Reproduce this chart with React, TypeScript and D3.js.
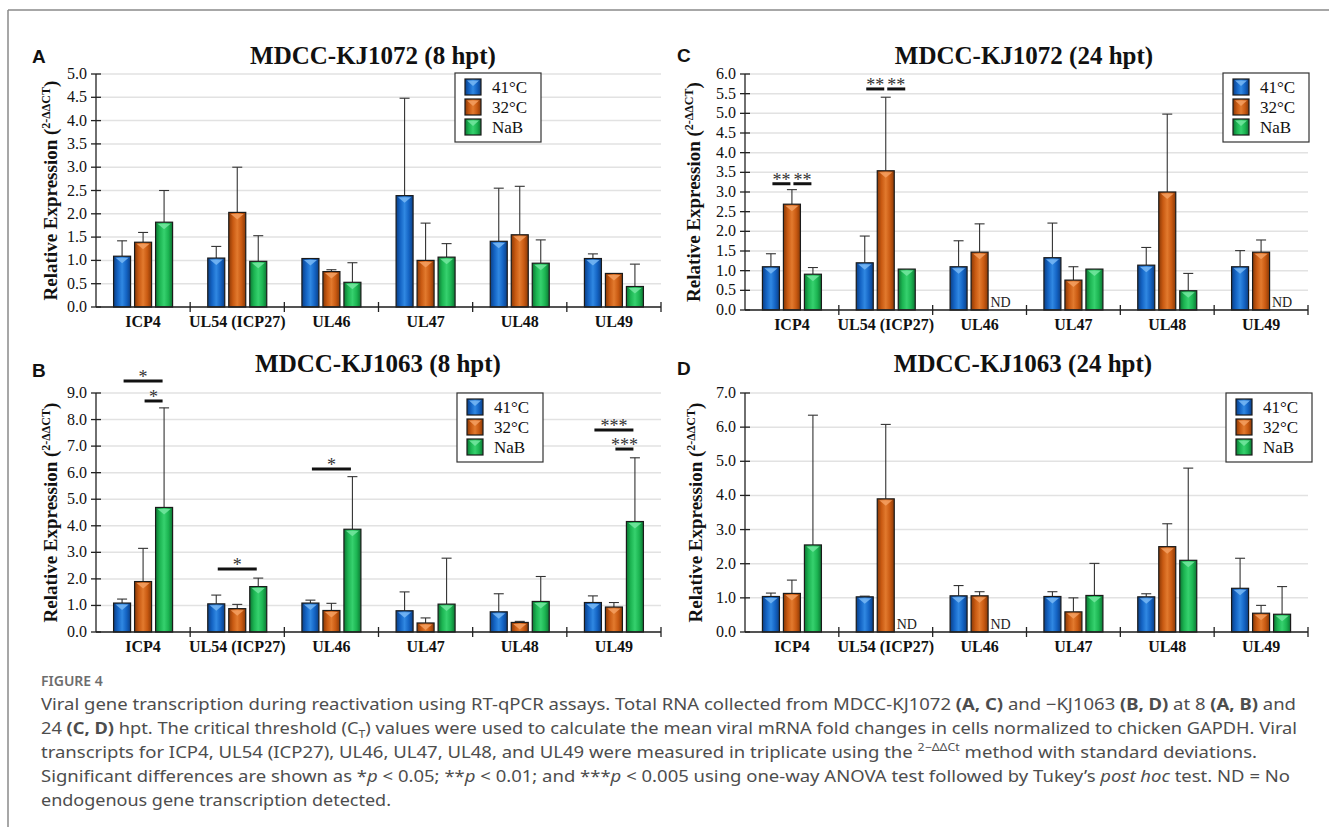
import React from 'react';
import * as d3 from 'd3';

const genes = ['ICP4', 'UL54 (ICP27)', 'UL46', 'UL47', 'UL48', 'UL49'];
const conditions = ['41°C', '32°C', 'NaB'];

// A: MDCC-KJ1072 (8 hpt) - mean and top of the SD whisker
const a41 = [1.09, 1.05, 1.04, 2.39, 1.41, 1.04];
const a41Hi = [1.42, 1.3, 1.04, 4.48, 2.55, 1.14];
const a32 = [1.39, 2.03, 0.76, 1.0, 1.55, 0.72];
const a32Hi = [1.6, 3.0, 0.8, 1.8, 2.59, 0.72];
const aNaB = [1.82, 0.98, 0.53, 1.07, 0.94, 0.44];
const aNaBHi = [2.5, 1.53, 0.95, 1.36, 1.44, 0.92];

// B: MDCC-KJ1063 (8 hpt)
const b41 = [1.09, 1.06, 1.09, 0.8, 0.76, 1.11];
const b41Hi = [1.24, 1.39, 1.2, 1.51, 1.44, 1.36];
const b32 = [1.9, 0.88, 0.81, 0.34, 0.36, 0.94];
const b32Hi = [3.15, 1.04, 1.08, 0.53, 0.4, 1.11];
const bNaB = [4.69, 1.71, 3.87, 1.05, 1.15, 4.16];
const bNaBHi = [8.44, 2.03, 5.85, 2.78, 2.09, 6.56];

// C: MDCC-KJ1072 (24 hpt), null = ND
const c41 = [1.1, 1.2, 1.1, 1.33, 1.14, 1.1];
const c41Hi = [1.43, 1.88, 1.76, 2.21, 1.59, 1.51];
const c32 = [2.69, 3.54, 1.47, 0.76, 3.0, 1.47];
const c32Hi = [3.06, 5.41, 2.19, 1.1, 4.98, 1.78];
const cNaB = [0.91, 1.04, null, 1.04, 0.49, null];
const cNaBHi = [1.08, 1.04, null, 1.04, 0.93, null];

// D: MDCC-KJ1063 (24 hpt)
const d41 = [1.04, 1.03, 1.06, 1.04, 1.03, 1.28];
const d41Hi = [1.14, 1.05, 1.36, 1.18, 1.12, 2.16];
const d32 = [1.13, 3.9, 1.06, 0.59, 2.5, 0.55];
const d32Hi = [1.52, 6.08, 1.18, 1.0, 3.17, 0.78];
const dNaB = [2.55, null, null, 1.07, 2.1, 0.52];
const dNaBHi = [6.35, null, null, 2.01, 4.8, 1.33];

// significance brackets: gene, from condition, to condition, level
const bSig = [
  { gene: 'ICP4', from: 0, to: 2, level: 9.45, stars: '*' },
  { gene: 'ICP4', from: 1, to: 2, level: 8.7, stars: '*' },
  { gene: 'UL54 (ICP27)', from: 0, to: 2, level: 2.37, stars: '*' },
  { gene: 'UL46', from: 0, to: 2, level: 6.14, stars: '*' },
  { gene: 'UL49', from: 0, to: 2, level: 7.61, stars: '***' },
  { gene: 'UL49', from: 1, to: 2, level: 6.89, stars: '***' },
];
const cSig = [
  { gene: 'ICP4', from: 0, to: 1, level: 3.21, stars: '**' },
  { gene: 'ICP4', from: 1, to: 2, level: 3.21, stars: '**' },
  { gene: 'UL54 (ICP27)', from: 0, to: 1, level: 5.62, stars: '**' },
  { gene: 'UL54 (ICP27)', from: 1, to: 2, level: 5.62, stars: '**' },
];

const panels = [
  { letter: 'A', title: 'MDCC-KJ1072 (8 hpt)', means: [a41, a32, aNaB], highs: [a41Hi, a32Hi, aNaBHi], sig: [],
    yMax: 5, step: 0.5, xr: [96, 661], yr: [307, 74], titleX: 373, titleY: 64, letterX: 32, letterY: 63, labelX: 50, legend: [455, 73] },
  { letter: 'C', title: 'MDCC-KJ1072 (24 hpt)', means: [c41, c32, cNaB], highs: [c41Hi, c32Hi, cNaBHi], sig: cSig,
    yMax: 6, step: 0.5, xr: [745, 1308], yr: [310, 74], titleX: 1024, titleY: 64, letterX: 677, letterY: 62, labelX: 693, legend: [1223, 73] },
  { letter: 'B', title: 'MDCC-KJ1063 (8 hpt)', means: [b41, b32, bNaB], highs: [b41Hi, b32Hi, bNaBHi], sig: bSig,
    yMax: 9, step: 1, xr: [96, 661], yr: [632, 393], titleX: 378, titleY: 372, letterX: 32, letterY: 377, labelX: 50, legend: [457, 393] },
  { letter: 'D', title: 'MDCC-KJ1063 (24 hpt)', means: [d41, d32, dNaB], highs: [d41Hi, d32Hi, dNaBHi], sig: [],
    yMax: 7, step: 1, xr: [745, 1308], yr: [632, 393], titleX: 1023, titleY: 372, letterX: 677, letterY: 375, labelX: 695, legend: [1226, 393] },
];

const palette = [
  { dark: '#0b3f86', base: '#1464c4', light: '#3088e2', tip: '#79b8f5' },
  { dark: '#8a3906', base: '#c95a12', light: '#e27a2e', tip: '#f4a061' },
  { dark: '#0c7733', base: '#1cb552', light: '#36d16e', tip: '#74e6a0' },
];

const serif = '"Liberation Serif", "Times New Roman", serif';
const BAR_W = 17;
const STEP = 21;

function Bar({ x, y, w, h, i }) {
  return (
    <g>
      <rect x={x} y={y} width={w} height={h} fill={`url(#bar${i})`} stroke="#1b1b1b" strokeWidth={1.2} />
      {h > 8 && (
        <polygon
          points={`${x + 2},${y + 1.5} ${x + w - 2},${y + 1.5} ${x + w / 2},${y + 7}`}
          fill={palette[i].tip}
          opacity={0.85}
        />
      )}
    </g>
  );
}

function Panel({ p }) {
  const x = d3.scaleBand().domain(genes).range(p.xr);
  const y = d3.scaleLinear().domain([0, p.yMax]).range(p.yr);
  const ticks = d3.range(0, p.yMax + p.step / 2, p.step);
  const fmt = d3.format('.1f');
  const axisX = p.xr[0];
  const y0 = y(0);
  const cx = (g, i) => x(g) + x.bandwidth() / 2 + (i - 1) * STEP;
  const boundaries = genes.map((g) => x(g)).concat([p.xr[1]]);
  const cy = (p.yr[0] + p.yr[1]) / 2;

  return (
    <g>
      <text x={p.letterX} y={p.letterY} fontFamily='"Liberation Sans", Arial, sans-serif' fontWeight="bold" fontSize={19} fill="#111">
        {p.letter}
      </text>
      <text x={p.titleX} y={p.titleY} textAnchor="middle" fontFamily={serif} fontWeight="bold" fontSize={25} fill="#111">
        {p.title}
      </text>

      {ticks.map((t) => (
        <line key={'g' + t} x1={axisX} x2={p.xr[1]} y1={y(t)} y2={y(t)} stroke="#e2e2e2" strokeWidth={1.5} />
      ))}

      {/* bars */}
      {genes.map((g, gi) =>
        p.means.map((vals, i) => {
          const v = vals[gi];
          const c = cx(g, i);
          if (v === null) {
            return (
              <text key={g + i} x={c} y={y0 - 3} textAnchor="middle" fontFamily={serif} fontSize={14} fill="#222">
                ND
              </text>
            );
          }
          const hi = p.highs[i][gi];
          return (
            <g key={g + i}>
              {hi > v + 0.01 && (
                <g stroke="#333" strokeWidth={1.1}>
                  <line x1={c} x2={c} y1={y(v)} y2={y(hi)} />
                  <line x1={c - 5} x2={c + 5} y1={y(hi)} y2={y(hi)} />
                </g>
              )}
              <Bar x={c - BAR_W / 2} y={y(v)} w={BAR_W} h={y0 - y(v)} i={i} />
            </g>
          );
        })
      )}

      {/* significance */}
      {p.sig.map((s, k) => {
        const x1 = cx(s.gene, s.from) + 1.5;
        const x2 = cx(s.gene, s.to) - 1.5;
        const ly = y(s.level);
        return (
          <g key={'s' + k}>
            <line x1={x1} x2={x2} y1={ly} y2={ly} stroke="#111" strokeWidth={3} />
            <text x={(x1 + x2) / 2} y={ly + 2} textAnchor="middle" fontFamily={serif} fontSize={18} fill="#333">
              {s.stars}
            </text>
          </g>
        );
      })}

      {/* axes */}
      <line x1={axisX} x2={axisX} y1={y0} y2={p.yr[1]} stroke="#222" strokeWidth={1.3} />
      {ticks.map((t) => (
        <g key={'t' + t}>
          <line x1={axisX - 5} x2={axisX + 5} y1={y(t)} y2={y(t)} stroke="#222" strokeWidth={1.3} />
          <text x={axisX - 9} y={y(t) + 5} textAnchor="end" fontFamily={serif} fontSize={16} fill="#111">
            {fmt(t)}
          </text>
        </g>
      ))}
      <line x1={axisX} x2={p.xr[1]} y1={y0} y2={y0} stroke="#222" strokeWidth={1.3} />
      {boundaries.slice(1).map((b, k) => (
        <line key={'b' + k} x1={b} x2={b} y1={y0 - 5} y2={y0 + 5} stroke="#222" strokeWidth={1.3} />
      ))}
      {genes.map((g) => (
        <text key={'l' + g} x={x(g) + x.bandwidth() / 2} y={y0 + 20} textAnchor="middle" fontFamily={serif} fontWeight="bold" fontSize={16} fill="#111">
          {g}
        </text>
      ))}

      <text transform={`translate(${p.labelX + 7},${cy}) rotate(-90)`} textAnchor="middle" fontFamily={serif} fontWeight="bold" fontSize={19} fill="#111">
        Relative Expression (<tspan dy={-7} fontSize={12}>2-ΔΔCT</tspan>
        <tspan dy={7}>)</tspan>
      </text>

      {/* legend */}
      <g transform={`translate(${p.legend[0]},${p.legend[1]})`}>
        <rect x={0} y={0} width={86} height={69} fill="#fff" stroke="#333" strokeWidth={1.2} />
        {conditions.map((c, i) => (
          <g key={c}>
            <Bar x={10} y={6 + i * 20} w={16} h={16} i={i} />
            <text x={37} y={20 + i * 20} fontFamily={serif} fontSize={17} fill="#111">
              {c}
            </text>
          </g>
        ))}
      </g>
    </g>
  );
}

const sans = '"Noto Sans", "Open Sans", sans-serif';

export default function App() {
  return (
    <svg width={1329} height={827} style={{ position: 'absolute', left: 0, top: 0, background: '#fff' }}>
      <defs>
        {palette.map((c, i) => (
          <linearGradient key={i} id={`bar${i}`} x1="0" x2="1" y1="0" y2="0">
            <stop offset="0" stopColor={c.dark} />
            <stop offset="0.25" stopColor={c.base} />
            <stop offset="0.5" stopColor={c.light} />
            <stop offset="0.75" stopColor={c.base} />
            <stop offset="1" stopColor={c.dark} />
          </linearGradient>
        ))}
      </defs>
      <rect width={1329} height={827} fill="#fff" />
      <line x1={8} x2={1329} y1={10} y2={10} stroke="#8a8a8a" strokeWidth={1.5} />
      <line x1={8} x2={8} y1={10} y2={827} stroke="#8a8a8a" strokeWidth={1.5} />

      {panels.map((p) => (
        <Panel key={p.letter} p={p} />
      ))}

      <text x={41} y={686} fontFamily={sans} fontWeight={600} fontSize={14} fill="#6d6d6d">
        FIGURE 4
      </text>
      <g fontFamily={sans} fontSize={16.5} fill="#4d4d4d">
        <text x={41} y={710} textLength={1255} lengthAdjust="spacingAndGlyphs">
          Viral gene transcription during reactivation using RT-qPCR assays. Total RNA collected from MDCC-KJ1072{' '}
          <tspan fontWeight="bold">(A, C)</tspan> and −KJ1063 <tspan fontWeight="bold">(B, D)</tspan> at 8{' '}
          <tspan fontWeight="bold">(A, B)</tspan> and
        </text>
        <text x={41} y={734} textLength={1256} lengthAdjust="spacingAndGlyphs">
          24 <tspan fontWeight="bold">(C, D)</tspan> hpt. The critical threshold (C<tspan dy={4} fontSize={11}>T</tspan>
          <tspan dy={-4}>) values were used to calculate the mean viral mRNA fold changes in cells normalized to chicken GAPDH. Viral</tspan>
        </text>
        <text x={41} y={758} textLength={1216} lengthAdjust="spacingAndGlyphs">
          transcripts for ICP4, UL54 (ICP27), UL46, UL47, UL48, and UL49 were measured in triplicate using the{' '}
          <tspan dy={-7} fontSize={11}>2−ΔΔCt</tspan>
          <tspan dy={7}> method with standard deviations.</tspan>
        </text>
        <text x={41} y={782} textLength={1249} lengthAdjust="spacingAndGlyphs">
          Significant differences are shown as *<tspan fontStyle="italic">p</tspan> {'<'} 0.05; **
          <tspan fontStyle="italic">p</tspan> {'<'} 0.01; and ***<tspan fontStyle="italic">p</tspan> {'<'} 0.005 using one-way ANOVA
          test followed by Tukey’s <tspan fontStyle="italic">post hoc</tspan> test. ND = No
        </text>
        <text x={41} y={806} textLength={350} lengthAdjust="spacingAndGlyphs">
          endogenous gene transcription detected.
        </text>
      </g>
    </svg>
  );
}
